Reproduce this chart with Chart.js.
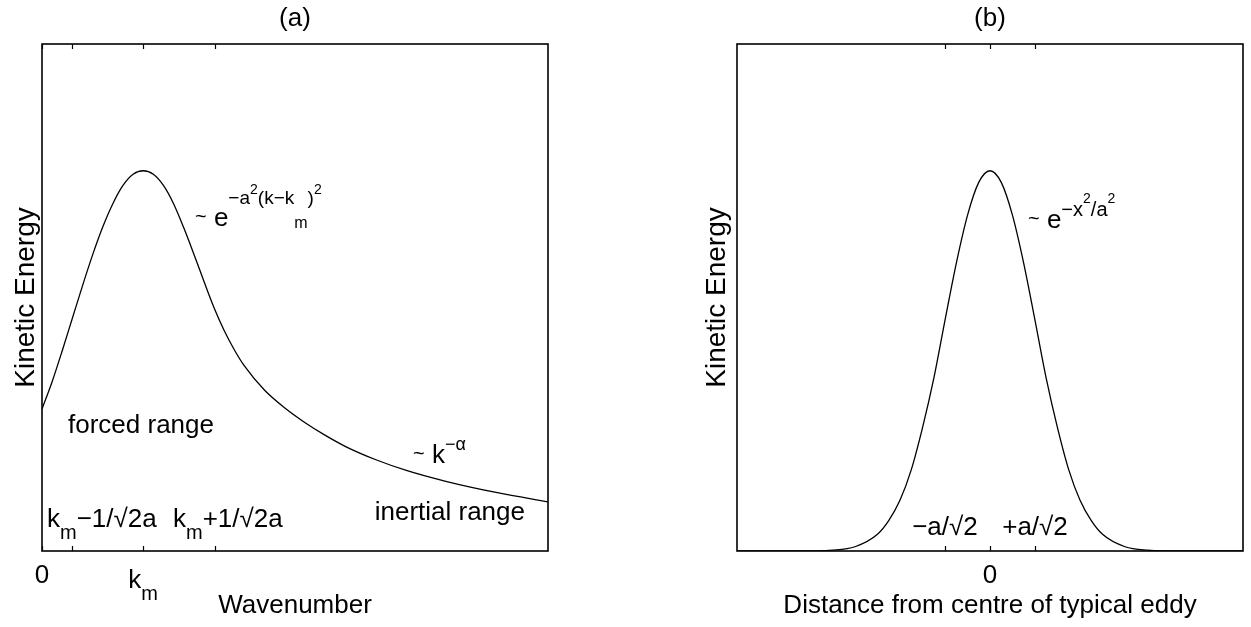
<!DOCTYPE html>
<html><head><meta charset="utf-8">
<script src="https://cdn.jsdelivr.net/npm/chart.js@4/dist/chart.umd.min.js"></script>
<style>
html,body{margin:0;padding:0;background:#fff;}
#wrap{position:relative;width:1251px;height:627px;background:#fff;}
#ca{position:absolute;left:0;top:0;}
#cb{position:absolute;left:620px;top:0;}
</style></head><body>
<div id="wrap"><canvas id="ca" width="620" height="627"></canvas><canvas id="cb" width="631" height="627"></canvas></div>
<script>
// ---- Panel (a): wavenumber spectrum (k in units of k_m, a = 1/k_m) ----
const wavenumberA = [0, 0.1, 0.2, 0.3, 0.4, 0.5, 0.6, 0.7, 0.8, 0.9, 1.0, 1.1, 1.2, 1.3, 1.4, 1.5, 1.6, 1.7, 1.8, 1.9, 2.0, 2.2, 2.4, 2.6, 2.8, 3.0, 3.3, 3.6, 4.0, 4.5, 5.0];
const energyA = [0.28, 0.334, 0.395, 0.459, 0.523, 0.584, 0.639, 0.685, 0.721, 0.743, 0.75, 0.743, 0.721, 0.685, 0.638, 0.586, 0.532, 0.48, 0.435, 0.397, 0.365, 0.317, 0.282, 0.253, 0.228, 0.206, 0.18, 0.159, 0.137, 0.115, 0.097];
const tickValuesA = [0, 0.293, 1, 1.707];
const tickLabelsA = ['0', '', 'k_m', ''];

// ---- Panel (b): eddy profile (x in units of a/sqrt2) ----
const distanceB = [-5.62, -4.5, -4, -3.5, -3, -2.5, -2.25, -2, -1.75, -1.5, -1.25, -1, -0.75, -0.5, -0.25, 0, 0.25, 0.5, 0.75, 1, 1.25, 1.5, 1.75, 2, 2.25, 2.5, 3, 3.5, 4, 4.5, 5.62];
const energyB = [0, 0.00003, 0.0003, 0.0016, 0.0084, 0.033, 0.06, 0.10, 0.16, 0.243, 0.34, 0.455, 0.567, 0.662, 0.727, 0.75, 0.727, 0.662, 0.567, 0.455, 0.34, 0.243, 0.16, 0.10, 0.06, 0.033, 0.0084, 0.0016, 0.0003, 0.00003, 0];
const tickValuesB = [-1, 0, 1];
const tickLabelsB = ['', '0', ''];

const FONT = '"Liberation Sans", Arial, sans-serif';
const F = 26;

function rich(ctx, segs, x, y, align) {
  let w = 0;
  for (const s of segs) { ctx.font = s[1] + 'px ' + FONT; w += ctx.measureText(s[0]).width; }
  let cx = align === 'center' ? x - w / 2 : (align === 'right' ? x - w : x);
  ctx.textAlign = 'left';
  ctx.textBaseline = 'alphabetic';
  for (const s of segs) {
    ctx.font = s[1] + 'px ' + FONT;
    ctx.fillText(s[0], cx, y + s[2]);
    cx += ctx.measureText(s[0]).width;
  }
}

function frame(chart, tickVals, tickLabels) {
  const ctx = chart.ctx;
  const {left, right, top, bottom} = chart.chartArea;
  const xs = chart.scales.x;
  ctx.save();
  ctx.strokeStyle = '#000';
  ctx.lineWidth = 1.6;
  ctx.strokeRect(left, top, right - left, bottom - top);
  ctx.lineWidth = 1.2;
  ctx.beginPath();
  for (const v of tickVals) {
    const px = Math.round(xs.getPixelForValue(v)) + 0.5;
    ctx.moveTo(px, bottom); ctx.lineTo(px, bottom - 5);
    ctx.moveTo(px, top); ctx.lineTo(px, top + 5);
  }
  ctx.stroke();
  ctx.fillStyle = '#000';
  tickVals.forEach((v, i) => {
    const lab = tickLabels[i];
    if (!lab) return;
    const px = xs.getPixelForValue(v);
    if (lab === 'k_m') rich(ctx, [['k', F, 0], ['m', 20, 12]], px, bottom + 37, 'center');
    else rich(ctx, [[lab, F, 0]], px, bottom + 32, 'center');
  });
  ctx.restore();
}

function ylabel(ctx, x, y, text) {
  ctx.save();
  ctx.translate(x, y);
  ctx.rotate(-Math.PI / 2);
  ctx.font = '28px ' + FONT;
  ctx.textAlign = 'center';
  ctx.textBaseline = 'alphabetic';
  ctx.fillStyle = '#000';
  ctx.fillText(text, 0, 0);
  ctx.restore();
}

const panelA = {
  id: 'panelA',
  afterDraw(chart) {
    const ctx = chart.ctx;
    const {left, right, top, bottom} = chart.chartArea;
    frame(chart, tickValuesA, tickLabelsA);
    ctx.save();
    ctx.fillStyle = '#000';
    const cxm = (left + right) / 2;
    rich(ctx, [['(a)', F, 0]], cxm, 26, 'center');
    rich(ctx, [['Wavenumber', F, 0]], cxm, 613, 'center');
    ylabel(ctx, 34, (top + bottom) / 2, 'Kinetic Energy');
    rich(ctx, [['forced range', F, 0]], 68, 433, 'left');
    rich(ctx, [['inertial range', F, 0]], 525, 520, 'right');
    rich(ctx, [['k', F, 0], ['m', 20, 12], ['\u22121/\u221A2a', F, 0]], 47, 527, 'left');
    rich(ctx, [['k', F, 0], ['m', 20, 12], ['+1/\u221A2a', F, 0]], 173, 527, 'left');
    rich(ctx, [['~', 20, -3], [' ', F, 0], ['e', F, 0], ['\u2212a', 19, -22], ['2', 14, -32], ['(k\u2212k', 19, -22], ['m', 16, 2], [')', 19, -22], ['2', 14, -32]], 195, 226, 'left');
    rich(ctx, [['~', 20, -3], [' ', F, 0], ['k', F, 0], ['\u2212\u03B1', 18, -13]], 413, 463, 'left');
    ctx.restore();
  }
};

const panelB = {
  id: 'panelB',
  afterDraw(chart) {
    const ctx = chart.ctx;
    const {left, right, top, bottom} = chart.chartArea;
    const xs = chart.scales.x;
    frame(chart, tickValuesB, tickLabelsB);
    ctx.save();
    ctx.fillStyle = '#000';
    const cxm = (left + right) / 2;
    rich(ctx, [['(b)', F, 0]], cxm, 26, 'center');
    rich(ctx, [['Distance from centre of typical eddy', F, 0]], cxm, 613, 'center');
    ylabel(ctx, left - 12, (top + bottom) / 2, 'Kinetic Energy');
    rich(ctx, [['\u2212a/\u221A2', F, 0]], xs.getPixelForValue(-1), 535, 'center');
    rich(ctx, [['+a/\u221A2', F, 0]], xs.getPixelForValue(1), 535, 'center');
    rich(ctx, [['~', 20, -3], [' ', F, 0], ['e', F, 0], ['\u2212x', 20, -12], ['2', 14, -25], ['/a', 20, -12], ['2', 14, -25]], 408, 228, 'left');
    ctx.restore();
  }
};

function makeChart(id, xs, ys, xmin, xmax, pad, plugin) {
  return new Chart(document.getElementById(id), {
    type: 'line',
    data: { datasets: [{ data: xs.map((x, i) => ({ x: x, y: ys[i] })), borderColor: '#000', borderWidth: 1.3, pointRadius: 0, fill: false, cubicInterpolationMode: 'monotone' }] },
    options: {
      responsive: false, animation: false, devicePixelRatio: 1,
      layout: { padding: pad },
      plugins: { legend: { display: false }, tooltip: { enabled: false } },
      scales: {
        x: { type: 'linear', min: xmin, max: xmax, display: false },
        y: { type: 'linear', min: 0, max: 1, display: false }
      }
    },
    plugins: [plugin]
  });
}

makeChart('ca', wavenumberA, energyA, 0, 5, { left: 42, right: 72, top: 44, bottom: 76 }, panelA);
makeChart('cb', distanceB, energyB, -5.62, 5.62, { left: 117, right: 8, top: 44, bottom: 76 }, panelB);
</script>
</body></html>
